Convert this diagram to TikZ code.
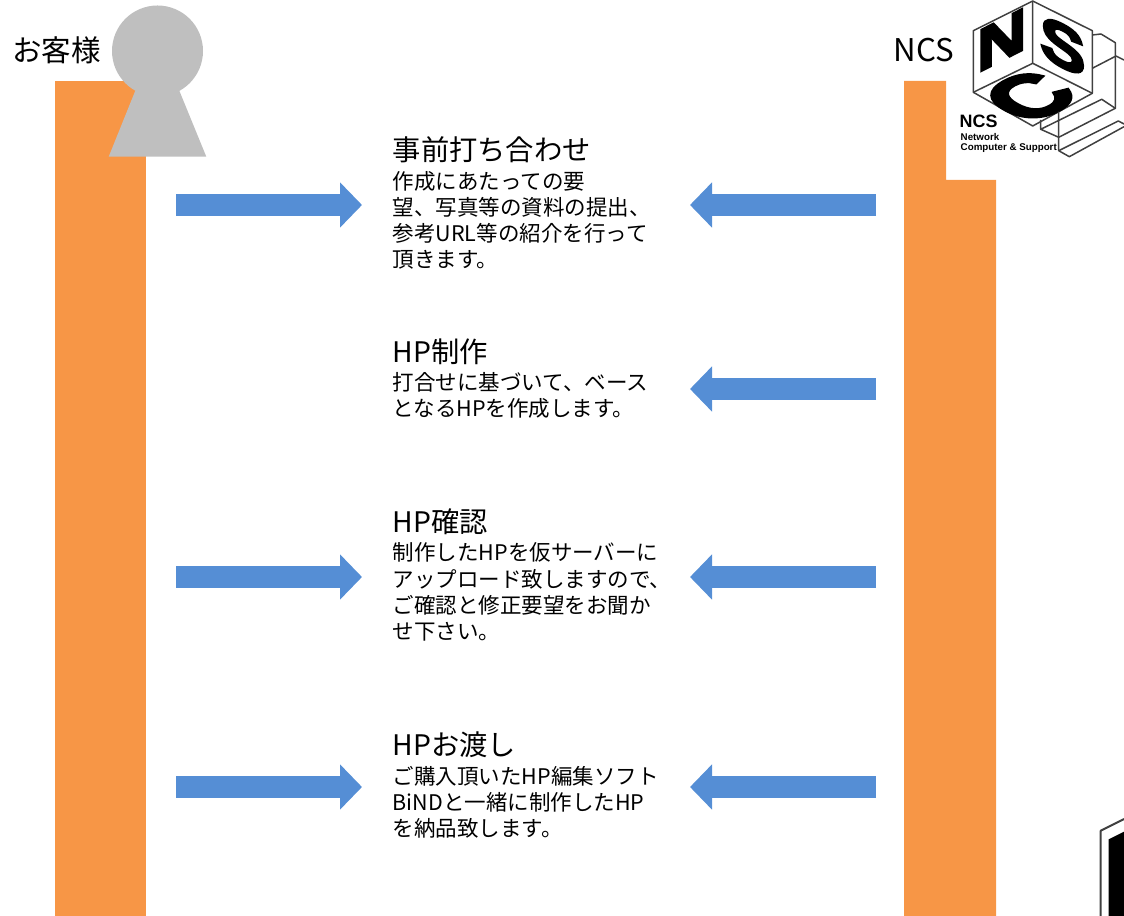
\documentclass[tikz,border=0pt]{standalone}
\usepackage{fontspec}
\setmainfont{Noto Sans CJK JP}
\newfontfamily\logofont{Liberation Sans}
\newfontfamily\heavyfont[FakeBold=4]{Liberation Sans Bold}
\usetikzlibrary{arrows.meta,positioning}

\begin{document}
\begin{tikzpicture}[x=1cm,y=-1cm,
	lane/.style={fill=laneorange,draw=none},
	flow/.style={draw=flowblue,line width=0.22cm,-{Triangle[length=0.22cm,width=0.44cm]}},
	head/.style={anchor=west,inner sep=0pt,font=\fontsize{8.05}{9.5}\selectfont},
	body/.style={anchor=north west,inner sep=0pt,align=left,font=\fontsize{6.12}{7.42}\selectfont},
	who/.style={anchor=west,inner sep=0pt,font=\fontsize{8.4}{10}\selectfont},
	wire/.style={draw=black!75,line width=0.015cm,line join=round},
	logoletter/.style={transform shape,inner sep=0pt,font=\heavyfont\fontsize{23}{23}\selectfont}]
	\definecolor{laneorange}{HTML}{F79646}
	\definecolor{flowblue}{HTML}{558ED5}
	\definecolor{persongray}{HTML}{BFBFBF}
	\useasboundingbox (0,0) rectangle (11.24,9.16);

	% Draw customer lane and person
	\fill[lane] (0.55,0.81) rectangle (1.46,9.16);
	\fill[persongray] (1.575,0.51) circle(0.455);
	\fill[persongray] (1.353,0.907) -- (1.087,1.567) -- (2.063,1.567) -- (1.793,0.907) -- cycle;
	\node[who] (customer) at (0.115,0.5) {お客様};

	% Draw NCS lane
	\fill[lane] (9.04,0.81) -- (9.46,0.81) -- (9.46,1.80) -- (9.96,1.80) -- (9.96,9.16) -- (9.04,9.16) -- cycle;
	\node[who,font=\fontsize{8.9}{10}\selectfont] (ncs) at (8.93,0.5) {NCS};

	% Draw logo cube
	\draw[wire] (10.327,0.01) -- (10.923,0.307) -- (10.923,0.933) -- (10.327,1.26) -- (9.733,0.923) -- (9.733,0.307) -- cycle;
	\draw[wire] (10.327,0.01) -- (10.327,0.633) -- (9.733,0.923) (10.327,0.633) -- (10.923,0.933);
	\begin{scope}[shift={(10.017,0.40)},cm={.84,.43,0,.74,(0,0)}]
		\node[logoletter] (letterN) at (0,0) {N};
	\end{scope}
	\begin{scope}[shift={(10.627,0.46)},cm={.84,-.43,0,.76,(0,0)}]
		\node[logoletter] (letterS) at (0,0) {S};
	\end{scope}
	\begin{scope}[shift={(10.30,0.967)},cm={.94,.52,-.94,.52,(0,0)}]
		\node[logoletter] (letterC) at (0,0) {C};
	\end{scope}

	% Draw logo stairs
	\draw[wire] (10.923,0.35) -- (11.01,0.34) -- (11.153,0.427) -- (11.153,1.083);
	\draw[wire] (10.923,0.683) -- (11.16,0.56) -- (11.24,0.60);
	\draw[wire] (10.407,1.20) -- (10.407,1.293) -- (11.017,0.993) -- (11.153,1.083) -- (10.587,1.373) -- (10.407,1.293);
	\draw[wire] (10.587,1.117) -- (10.587,1.507) -- (10.693,1.567) -- (11.24,1.267);
	\draw[wire] (10.587,1.507) -- (11.183,1.21) -- (11.24,1.24);
	\node[anchor=west,inner sep=0pt,font=\logofont\bfseries\fontsize{5.1}{6}\selectfont] (logoname) at (9.59,1.215) {NCS};
	\node[anchor=north west,inner sep=0pt,align=left,font=\logofont\bfseries\fontsize{2.78}{2.85}\selectfont] (logosub) at (9.6,1.325) {Network\\Computer \& Support};

	% Draw second logo at the corner
	\draw[wire,line width=0.02cm] (11.24,8.19) -- (11.007,8.307) -- (11.007,9.16);
	\fill[black] (11.087,8.393) -- (11.24,8.317) -- (11.24,9.16) -- (11.087,9.16) -- cycle;

	% Draw step texts
	\node[head] (stepA) at (3.92,1.50) {事前打ち合わせ};
	\node[body,below=0.065cm of stepA.south west,anchor=north west] (textA) {作成にあたっての要\\望、写真等の資料の提出、\\参考URL等の紹介を行って\\頂きます。};
	\node[head] (stepB) at (3.92,3.52) {HP制作};
	\node[body,below=0.065cm of stepB.south west,anchor=north west] (textB) {打合せに基づいて、ベース\\となるHPを作成します。};
	\node[head] (stepC) at (3.92,5.22) {HP確認};
	\node[body,below=0.065cm of stepC.south west,anchor=north west] (textC) {制作したHPを仮サーバーに\\アップロード致しますので、\\ご確認と修正要望をお聞か\\せ下さい。};
	\node[head] (stepD) at (3.92,7.45) {HPお渡し};
	\node[body,below=0.065cm of stepD.south west,anchor=north west] (textD) {ご購入頂いたHP編集ソフト\\BiNDと一緒に制作したHP\\を納品致します。};

	% Draw arrows
	\coordinate (leftA) at (1.76,2.05);
	\coordinate (midleftA) at (3.62,2.05);
	\coordinate (rightA) at (8.76,2.05);
	\coordinate (midrightA) at (6.90,2.05);
	\draw[flow] (leftA) -- (midleftA);
	\draw[flow] (rightA) -- (midrightA);

	\coordinate (rightB) at (8.76,3.89);
	\coordinate (midrightB) at (6.90,3.89);
	\draw[flow] (rightB) -- (midrightB);

	\coordinate (leftC) at (1.76,5.77);
	\coordinate (midleftC) at (3.62,5.77);
	\coordinate (rightC) at (8.76,5.77);
	\coordinate (midrightC) at (6.90,5.77);
	\draw[flow] (leftC) -- (midleftC);
	\draw[flow] (rightC) -- (midrightC);

	\coordinate (leftD) at (1.76,7.87);
	\coordinate (midleftD) at (3.62,7.87);
	\coordinate (rightD) at (8.76,7.87);
	\coordinate (midrightD) at (6.90,7.87);
	\draw[flow] (leftD) -- (midleftD);
	\draw[flow] (rightD) -- (midrightD);
\end{tikzpicture}
\end{document}
